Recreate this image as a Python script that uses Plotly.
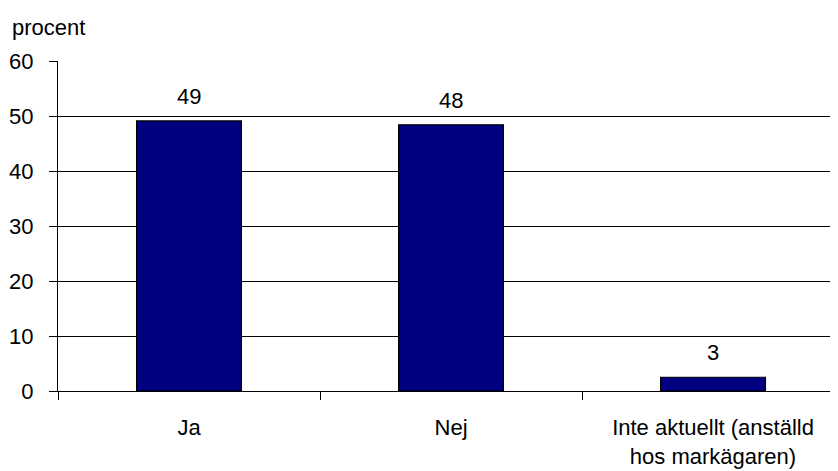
import plotly.graph_objects as go

categories = ["Ja", "Nej", "Inte aktuellt (anställd<br>hos markägaren)"]
values = [49.1, 48.4, 2.5]
value_labels = ["49", "48", "3"]
y_ticks = [0, 10, 20, 30, 40, 50, 60]
y_title = "procent"

FONT = "Liberation Sans, Arial, sans-serif"
fs = 22

fig = go.Figure()
fig.add_trace(go.Bar(
    x=categories, y=values, width=0.4,
    marker=dict(color="#000080", line=dict(color="#000000", width=1.2)),
    hoverinfo="skip",
))

for c, v, t in zip(categories, values, value_labels):
    fig.add_annotation(x=c, y=v, text=t, showarrow=False, xanchor="center",
                       yanchor="bottom", yshift=10,
                       font=dict(family=FONT, size=fs, color="#000000"))

fig.add_annotation(xref="paper", yref="paper", x=-0.062, y=1.0, yshift=19,
                   text=y_title, showarrow=False, xanchor="left", yanchor="bottom",
                   font=dict(family=FONT, size=fs, color="#000000"))

fig.update_layout(
    width=830, height=463,
    margin=dict(l=50, r=0, t=53, b=80),
    paper_bgcolor="white", plot_bgcolor="white",
    showlegend=False,
    font=dict(family=FONT, size=fs, color="#000000"),
    bargap=0.6,
)
fig.update_xaxes(
    type="category", range=[-0.5, 2.477],
    showline=True, linecolor="#000000", linewidth=1,
    ticks="outside", tickson="boundaries", ticklen=8, tickcolor="#000000",
    showgrid=False, ticklabelstandoff=17,
)
fig.update_yaxes(
    range=[0, 60], tickvals=y_ticks,
    showline=True, linecolor="#000000", linewidth=1,
    ticks="outside", ticklen=8, tickcolor="#000000",
    showgrid=True, gridcolor="#000000", gridwidth=1,
    zeroline=False, ticklabelstandoff=11,
)

fig.write_html("out.html")
